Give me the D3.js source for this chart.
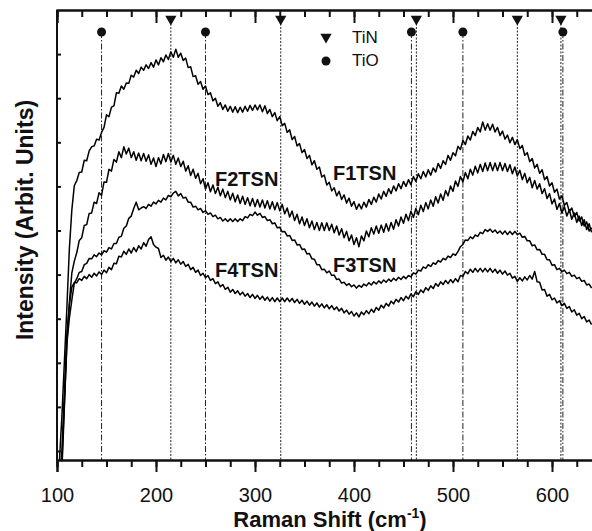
<!DOCTYPE html>
<html><head><meta charset="utf-8">
<script src="https://cdn.jsdelivr.net/npm/d3@7"></script>
<style>
html,body{margin:0;padding:0;background:#fff;}
svg{display:block;font-family:"Liberation Sans",Arial,sans-serif;}
</style></head>
<body>
<svg id="chart" width="592" height="531"></svg>
<script>
// ---- data ----
const shift = d3.range(100, 640.1, 2.5); // Raman shift, cm-1
const F1TSN = [-8,0,10,22,34,47,55.6,61.0,62.1,63.9,
64.0,66.6,66.5,68.7,69.6,69.8,71.3,71.1,72.8,73.9,
76.7,76.3,78.4,78.7,81.6,81.5,83.1,82.4,83.8,83.7,
85.5,85.1,86.6,85.9,87.3,86.6,87.8,87.0,88.3,87.3,
88.9,87.8,89.4,88.5,90.0,89.0,90.7,89.5,91.3,89.5,
90.4,88.8,89.3,87.2,87.4,85.2,85.4,83.5,84.1,82.4,
83.1,81.2,81.6,79.8,80.4,78.6,79.4,77.9,78.9,77.5,
78.6,77.3,78.5,77.2,78.4,77.3,78.6,77.5,78.8,77.7,
78.9,77.8,78.9,77.4,78.7,77.0,77.9,76.3,77.2,75.4,
76.3,74.3,74.8,72.8,73.4,71.2,71.9,69.8,70.3,68.3,
69.0,67.0,67.7,65.6,66.5,64.6,65.1,62.9,63.3,61.1,
61.7,59.8,60.5,58.7,59.7,57.9,58.9,57.1,58.2,56.4,
57.4,55.7,56.9,55.8,57.3,56.2,57.9,56.8,58.4,57.3,
59.1,58.0,59.7,58.6,60.3,59.2,60.9,59.8,61.4,60.3,
61.9,60.8,62.3,61.2,63.0,61.9,63.6,62.5,64.1,62.9,
64.5,63.3,64.9,64.0,65.9,64.8,66.5,65.7,67.7,66.6,
68.3,67.6,69.7,69.0,71.0,70.1,72.0,71.1,73.0,72.1,
73.9,72.9,75.1,73.3,74.7,73.3,74.6,72.9,73.9,72.1,
73.1,71.3,72.2,70.5,71.7,70.1,71.2,69.2,69.9,67.7,
68.3,66.3,67.0,64.9,65.7,63.7,64.5,62.3,63.0,60.9,
61.6,59.5,60.2,58.0,58.7,56.6,57.2,55.2,56.0,54.1,
55.0,53.1,54.0,52.0,52.9,50.9,51.6];
const F2TSN = [-10,-5,0,13,26,35,41.6,44.2,46.1,48.8,
49.4,52.1,52.3,54.8,54.9,57.3,57.0,59.4,58.8,61.8,
61.7,64.6,64.2,66.8,66.2,68.5,67.2,69.6,68.0,69.3,
67.2,68.5,66.6,68.2,66.5,68.1,66.4,67.8,65.7,67.1,
65.2,67.2,65.8,67.9,66.3,68.1,66.2,67.7,65.7,67.1,
65.2,66.4,64.2,65.4,63.2,64.6,62.6,63.7,61.4,62.5,
60.2,61.6,59.6,61.1,59.2,60.6,58.7,60.2,58.3,59.7,
57.8,59.3,57.4,58.9,57.0,58.6,56.8,58.3,56.5,58.1,
56.3,57.9,56.2,57.8,56.0,57.6,55.8,57.4,55.6,57.2,
55.4,56.8,54.7,56.0,54.0,55.3,53.2,54.6,52.5,54.0,
52.1,53.6,51.6,53.1,51.2,52.8,51.0,52.7,51.0,52.7,
51.0,52.4,50.5,52.0,50.0,51.4,49.4,50.8,48.7,50.0,
47.9,49.4,47.4,49.8,48.7,50.9,49.6,51.6,50.2,52.0,
50.4,52.2,50.6,52.5,50.9,52.8,51.3,53.4,52.0,54.0,
52.6,54.6,53.2,55.3,53.9,55.9,54.5,56.6,55.2,57.2,
55.8,57.8,56.4,58.5,57.1,59.1,57.7,59.9,58.7,60.9,
59.7,62.0,60.8,63.0,61.8,63.9,62.5,64.6,63.3,65.3,
63.8,65.7,64.1,66.0,64.3,66.1,64.3,66.0,64.3,66.1,
64.3,65.9,64.1,65.6,63.6,65.1,63.1,64.4,62.3,63.7,
61.6,62.8,60.5,62.1,60.2,61.4,59.2,60.3,58.1,59.2,
56.9,58.0,55.7,57.0,54.9,56.3,54.2,55.6,53.5,54.9,
52.8,54.2,52.1,53.4,51.2,52.5,50.6];
const F3TSN = [-10,-6,-2,12,26,31.5,35.6,39.3,40.3,41.7,
41.9,43.4,43.7,44.8,44.7,45.6,45.2,46.0,45.6,46.5,
46.2,47.2,46.9,48.1,48.1,49.5,49.7,51.5,52.0,53.7,
54.2,55.9,57.3,55.6,56.0,56.3,55.9,56.8,56.4,57.3,
56.9,57.7,57.3,58.2,57.8,58.8,58.5,59.3,59.7,58.7,
59.2,58.2,58.4,57.3,57.3,56.2,56.4,55.6,55.9,55.0,
55.4,54.6,54.9,54.1,54.4,53.6,53.9,53.1,53.6,53.0,
53.6,53.0,53.6,53.0,53.6,53.2,54.1,53.8,54.6,54.3,
55.1,54.4,54.8,53.9,54.1,53.2,53.4,52.5,52.7,51.6,
51.7,50.7,50.8,49.8,49.9,48.8,48.9,47.8,47.9,46.8,
46.9,45.8,45.9,44.7,44.6,43.4,43.4,42.3,42.4,41.6,
42.0,41.0,41.1,40.1,40.2,39.3,39.5,38.8,39.2,38.5,
38.9,38.2,38.8,38.4,39.1,38.7,39.4,38.9,39.6,39.1,
39.8,39.3,40.0,39.5,40.2,39.7,40.4,39.9,40.6,40.1,
40.8,40.3,41.0,40.7,41.6,41.3,42.2,42.0,42.9,42.6,
43.4,43.0,43.8,43.5,44.3,44.0,44.8,44.5,45.3,45.0,
45.8,45.5,46.3,47.4,47.9,48.9,48.8,49.6,49.2,50.0,
49.7,50.6,50.3,51.2,50.8,51.3,50.6,51.1,50.4,50.9,
50.2,50.9,50.1,50.8,50.1,50.8,50.1,50.4,49.5,49.7,
48.7,48.7,47.6,47.8,46.7,46.8,45.7,45.7,44.5,44.5,
43.3,43.4,42.3,42.6,41.8,42.2,41.4,41.7,40.8,41.1,
40.3,40.6,39.7,39.9,38.9,39.1,38.2];
const F4TSN = [-10,-4,2,15,28,34.5,38.4,39.4,39.4,40.3,
39.9,40.8,40.3,41.2,40.6,41.5,40.9,41.8,41.2,42.2,
41.6,42.8,42.3,43.7,43.6,45.3,45.1,46.4,45.7,46.9,
46.0,47.2,46.3,47.6,46.9,48.3,47.5,49.0,49.6,47.9,
47.3,47.0,45.0,45.5,44.4,45.1,44.1,44.8,43.8,44.5,
43.5,44.1,43.0,43.5,42.3,42.8,41.7,42.2,41.0,41.5,
40.5,41.0,39.9,40.3,39.2,39.6,38.5,39.0,37.9,38.4,
37.3,37.9,37.0,37.6,36.7,37.3,36.4,37.0,36.1,36.8,
35.9,36.6,35.7,36.4,35.5,36.2,35.3,36.1,35.2,36.0,
35.2,36.0,35.2,36.0,35.2,35.9,35.0,35.7,34.8,35.5,
34.6,35.3,34.4,35.1,34.2,34.9,34.0,34.7,33.8,34.5,
33.6,34.3,33.4,34.0,33.1,33.7,32.7,33.3,32.4,33.0,
32.0,32.7,31.8,32.9,32.3,33.2,32.5,33.5,32.8,33.9,
33.3,34.4,33.8,34.8,34.2,35.3,34.7,35.7,35.1,36.1,
35.4,36.4,35.8,36.9,36.3,37.4,36.8,37.8,37.2,38.3,
37.7,38.7,38.1,39.2,38.6,39.6,39.0,39.9,39.2,40.1,
39.4,40.3,39.6,41.0,40.8,41.9,41.4,42.4,41.7,42.6,
41.8,42.6,41.8,42.6,41.8,42.6,41.7,42.4,41.5,42.2,
41.3,42.0,41.1,41.5,40.4,40.8,39.7,40.5,39.8,40.7,
40.0,41.0,40.2,41.9,39.6,39.5,37.8,37.9,36.4,36.8,
35.6,36.0,34.9,35.4,34.3,34.8,33.7,34.1,32.9,33.4,
32.2,32.6,31.4,31.9,30.7,31.1,30.1];
const seriesNames = ["F1TSN","F2TSN","F3TSN","F4TSN"];
const seriesValues = [F1TSN, F2TSN, F3TSN, F4TSN];
const labelPos = [[333,180],[215,186],[333,272],[215,277]]; // label anchors (px)
const TiN = [215, 326, 463, 565, 609];
const TiO = [145, 250, 458, 510, 611];
const xMajorTicks = [100,200,300,400,500,600];
const xMinorTicks = d3.range(100, 651, 25);
const yTicks = [2,11.8,21.6,31.4,41.2,51,60.8,70.6,80.4,90.2];

(function(){
const svg = d3.select("#chart");
const L = 57, T = 10, B = 460;
const x = d3.scaleLinear().domain([100, 650]).range([L, L + 550*0.99]);
const y = d3.scaleLinear().domain([0, 100]).range([B, T]);

svg.append("defs").append("clipPath").attr("id","clip")
  .append("rect").attr("x",L).attr("y",T).attr("width",600).attr("height",B-T);

// reference lines
const g = svg.append("g");
g.selectAll("line.tio").data(TiO).join("line").attr("class","tio")
  .attr("x1",d=>x(d)).attr("x2",d=>x(d)).attr("y1",32).attr("y2",B)
  .attr("stroke","#222").attr("stroke-width",1).attr("stroke-dasharray","6,2,1.5,2");
g.selectAll("line.tin").data(TiN).join("line").attr("class","tin")
  .attr("x1",d=>x(d)).attr("x2",d=>x(d)).attr("y1",20).attr("y2",B)
  .attr("stroke","#222").attr("stroke-width",1).attr("stroke-dasharray","2,1.5");

// curves
const line = d3.line().x((d,i)=>x(shift[i])).y(d=>y(d));
svg.append("g").attr("clip-path","url(#clip)")
  .selectAll("path").data(seriesValues).join("path")
  .attr("d", line).attr("fill","none").attr("stroke","#000")
  .attr("stroke-width",1.5).attr("stroke-linejoin","round");

// markers
const tri = d3.symbol().type(d3.symbolTriangle).size(55);
svg.selectAll("path.tinm").data(TiN).join("path").attr("class","tinm")
  .attr("d",tri).attr("transform",d=>`translate(${x(d)},19) rotate(180)`).attr("fill","#111");
svg.selectAll("circle.tiom").data(TiO).join("circle").attr("class","tiom")
  .attr("cx",d=>x(d)).attr("cy",32).attr("r",4.5).attr("fill","#111");

// axes
const axB = svg.append("g").attr("transform",`translate(0,${B})`);
axB.call(d3.axisBottom(x).tickValues(xMinorTicks).tickSize(7).tickFormat(""));
axB.append("g").call(d3.axisBottom(x).tickValues(xMajorTicks).tickSize(12).tickPadding(16).tickFormat(d3.format("d")));
const axT = svg.append("g").attr("transform",`translate(0,${T})`);
axT.call(d3.axisTop(x).tickValues(xMinorTicks).tickSize(-7).tickFormat(""));
axT.append("g").call(d3.axisTop(x).tickValues(xMajorTicks).tickSize(-13).tickFormat(""));
const axL = svg.append("g").attr("transform",`translate(${L},0)`);
axL.call(d3.axisLeft(y).tickValues(yTicks).tickSize(-4).tickFormat(""));
svg.selectAll(".domain").attr("stroke","#111").attr("stroke-width",2);
svg.selectAll(".tick line").attr("stroke","#111").attr("stroke-width",2);
axB.selectAll(".tick text").attr("font-size",20).attr("fill","#111")
  .attr("font-family","Liberation Sans, Arial, sans-serif");
axL.select(".domain").attr("d",`M0,${T}V${B}`);

// series labels
svg.selectAll("text.lab").data(seriesNames).join("text").attr("class","lab")
  .attr("x",(d,i)=>labelPos[i][0]).attr("y",(d,i)=>labelPos[i][1])
  .attr("font-size",20).attr("font-weight","bold").attr("fill","#111").text(d=>d);

// legend
const leg = svg.append("g");
leg.append("path").attr("d",tri).attr("transform","translate(326,37) rotate(180)").attr("fill","#111");
leg.append("text").attr("x",352).attr("y",43).attr("font-size",17).attr("fill","#111").text("TiN");
leg.append("circle").attr("cx",326).attr("cy",61).attr("r",4.5).attr("fill","#111");
leg.append("text").attr("x",352).attr("y",66).attr("font-size",17).attr("fill","#111").text("TiO");

// axis titles
const xt = svg.append("text").attr("x",330).attr("y",527).attr("text-anchor","middle")
  .attr("font-size",22).attr("font-weight","bold").attr("fill","#111");
xt.append("tspan").text("Raman Shift (cm");
xt.append("tspan").attr("font-size",14).attr("dy",-9).text("-1");
xt.append("tspan").attr("dy",9).text(")");
svg.append("text").attr("transform","translate(33,220) rotate(-90)").attr("text-anchor","middle")
  .attr("font-size",23).attr("font-weight","bold").attr("fill","#111").text("Intensity (Arbit. Units)");
})();
</script>
</body></html>
